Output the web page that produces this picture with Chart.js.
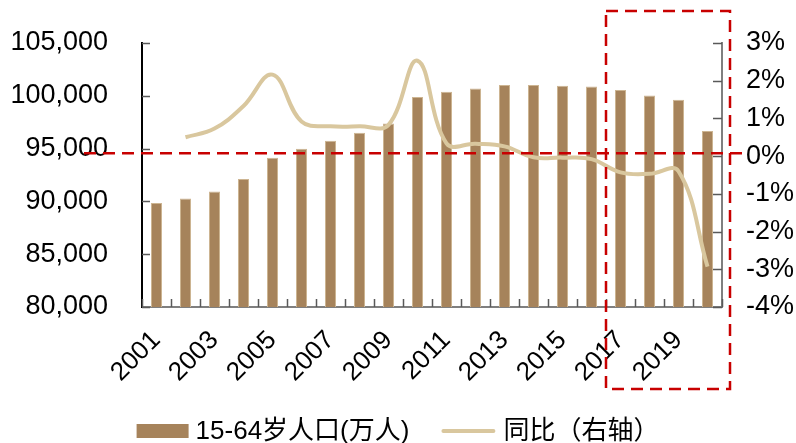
<!DOCTYPE html>
<html>
<head>
<meta charset="utf-8">
<script src="https://cdn.jsdelivr.net/npm/chart.js@4.4.0/dist/chart.umd.min.js"></script>
<style>
  html, body { margin: 0; padding: 0; background: #fff; }
  #wrap { width: 796px; height: 443px; }
</style>
</head>
<body>
<div id="wrap"><canvas id="chart" width="796" height="443"></canvas></div>
<script>
// Working-age (15-64) population, 10k persons, and its year-on-year change (%)
const years = ['2001','2002','2003','2004','2005','2006','2007','2008','2009','2010',
               '2011','2012','2013','2014','2015','2016','2017','2018','2019','2020'];
const workingAgePop = [89848, 90284, 90947, 92121, 94138, 94990, 95748, 96506, 97386, 99886,
                       100388, 100701, 101023, 101023, 100956, 100890, 100549, 100038, 99630, 96667];
const yoyChange = [null, 0.50, 0.73, 1.33, 2.16, 0.92, 0.79, 0.79, 0.83, 2.53,
                   0.34, 0.33, 0.26, -0.03, -0.04, -0.08, -0.43, -0.47, -0.40, -2.93];
const leftTicks = [80000, 85000, 90000, 95000, 100000, 105000];
const rightTicks = [-4, -3, -2, -1, 0, 1, 2, 3];
const seriesNames = ['15-64岁人口(万人)', '同比（右轴）'];
const highlightFrom = '2017';
const guideLevel = 0.08;

const BAR = '#a6835b';
const LINE = '#d9c79e';
const RED = '#c80000';
const FONT = '"Liberation Sans", Arial, "Noto Sans CJK SC", sans-serif';

// Invisible outer tick marks only push the labels away from the axis line
const hiddenGrid = (len) => ({
  display: true, drawOnChartArea: false, drawTicks: true,
  tickLength: len, color: 'rgba(0,0,0,0)'
});

// Short tick marks drawn on the inner side of each axis
const innerTicks = {
  id: 'innerTicks',
  afterDatasetsDraw(chart) {
    const { ctx, chartArea: a, scales } = chart;
    ctx.save();
    ctx.lineWidth = 1.5;
    ctx.strokeStyle = '#595959';
    ctx.beginPath();
    leftTicks.forEach(v => {
      const y = Math.round(scales.y.getPixelForValue(v)) + 0.5;
      ctx.moveTo(a.left, y); ctx.lineTo(a.left + 8, y);
    });
    rightTicks.forEach(v => {
      const y = Math.round(scales.y1.getPixelForValue(v)) + 0.5;
      ctx.moveTo(a.right - 9, y); ctx.lineTo(a.right, y);
    });
    const step = scales.x.getPixelForValue(1) - scales.x.getPixelForValue(0);
    for (let i = 0; i <= years.length; i++) {
      const x = Math.round(scales.x.getPixelForValue(i) - step / 2) + 0.5;
      ctx.moveTo(x, a.bottom); ctx.lineTo(x, a.bottom - 8);
    }
    ctx.stroke();
    ctx.restore();
  }
};

// Red dashed guide at the zero line and a dashed frame around the latest years
const guides = {
  id: 'guides',
  afterDraw(chart) {
    const { ctx, chartArea: a, scales } = chart;
    const step = scales.x.getPixelForValue(1) - scales.x.getPixelForValue(0);
    ctx.save();
    ctx.strokeStyle = RED;
    ctx.lineWidth = 2.5;
    ctx.setLineDash([12, 7]);
    const gy = scales.y1.getPixelForValue(guideLevel);
    ctx.beginPath();
    ctx.moveTo(a.left - 58, gy); ctx.lineTo(a.right + 25, gy);
    ctx.stroke();
    const left = scales.x.getPixelForValue(years.indexOf(highlightFrom)) - step / 2;
    const right = a.right + 8;
    const top = a.top - 32;
    const bottom = a.bottom + 82;
    ctx.strokeRect(left, top, right - left, bottom - top);
    ctx.restore();
  }
};

// Legend row at the bottom: bar swatch, line swatch and series names
const legendRow = {
  id: 'legendRow',
  afterDraw(chart) {
    const { ctx } = chart;
    const cy = 431;
    ctx.save();
    ctx.font = '26px ' + FONT;
    ctx.textBaseline = 'middle';
    const w1 = ctx.measureText(seriesNames[0]).width;
    const w2 = ctx.measureText(seriesNames[1]).width;
    const total = 52 + 7 + w1 + 32 + 54 + 8 + w2;
    let x = (chart.width - total) / 2;
    ctx.fillStyle = chart.data.datasets[0].backgroundColor;
    ctx.fillRect(x, cy - 7, 52, 14);
    x += 59;
    ctx.fillStyle = '#000';
    ctx.fillText(seriesNames[0], x, cy + 1);
    x += w1 + 32;
    ctx.strokeStyle = chart.data.datasets[1].borderColor;
    ctx.lineWidth = 4;
    ctx.lineCap = 'round';
    ctx.beginPath();
    ctx.moveTo(x + 2, cy); ctx.lineTo(x + 52, cy);
    ctx.stroke();
    x += 62;
    ctx.fillText(seriesNames[1], x, cy + 1);
    ctx.restore();
  }
};

new Chart(document.getElementById('chart'), {
  data: {
    labels: years,
    datasets: [
      {
        type: 'bar',
        label: seriesNames[0],
        data: workingAgePop,
        backgroundColor: BAR,
        borderColor: '#cdb592',
        borderWidth: 1,
        categoryPercentage: 1,
        barPercentage: 0.38,
        yAxisID: 'y',
        order: 2
      },
      {
        type: 'line',
        label: seriesNames[1],
        data: yoyChange,
        borderColor: LINE,
        borderWidth: 4,
        pointRadius: 0,
        tension: 0.4,
        yAxisID: 'y1',
        order: 1
      }
    ]
  },
  options: {
    responsive: false,
    animation: false,
    layout: { padding: { top: 43, bottom: 40, left: 0, right: 0 } },
    plugins: { legend: { display: false }, tooltip: { enabled: false } },
    scales: {
      x: {
        grid: hiddenGrid(14),
        border: { display: true, color: '#7f7f7f', width: 2 },
        ticks: {
          autoSkip: false,
          minRotation: 45,
          maxRotation: 45,
          padding: 4,
          color: '#000',
          font: { family: FONT, size: 26 },
          callback: (v, i) => (i % 2 === 0 ? years[i] : '')
        },
        afterFit: s => { s.height = 96; }
      },
      y: {
        position: 'left',
        min: leftTicks[0],
        max: leftTicks[leftTicks.length - 1],
        afterBuildTicks: s => { s.ticks = leftTicks.map(v => ({ value: v })); },
        grid: hiddenGrid(30),
        border: { display: true, color: '#000', width: 2 },
        ticks: {
          padding: 4,
          color: '#000',
          font: { family: FONT, size: 27 },
          callback: v => v.toLocaleString('en-US')
        },
        afterFit: s => { s.width = 142; }
      },
      y1: {
        position: 'right',
        min: rightTicks[0],
        max: rightTicks[rightTicks.length - 1],
        afterBuildTicks: s => { s.ticks = rightTicks.map(v => ({ value: v })); },
        grid: hiddenGrid(20),
        border: { display: true, color: '#7f7f7f', width: 2 },
        ticks: {
          padding: 4,
          color: '#000',
          font: { family: FONT, size: 27 },
          callback: v => v + '%'
        },
        afterFit: s => { s.width = 74; }
      }
    }
  },
  plugins: [innerTicks, guides, legendRow]
});
</script>
</body>
</html>
